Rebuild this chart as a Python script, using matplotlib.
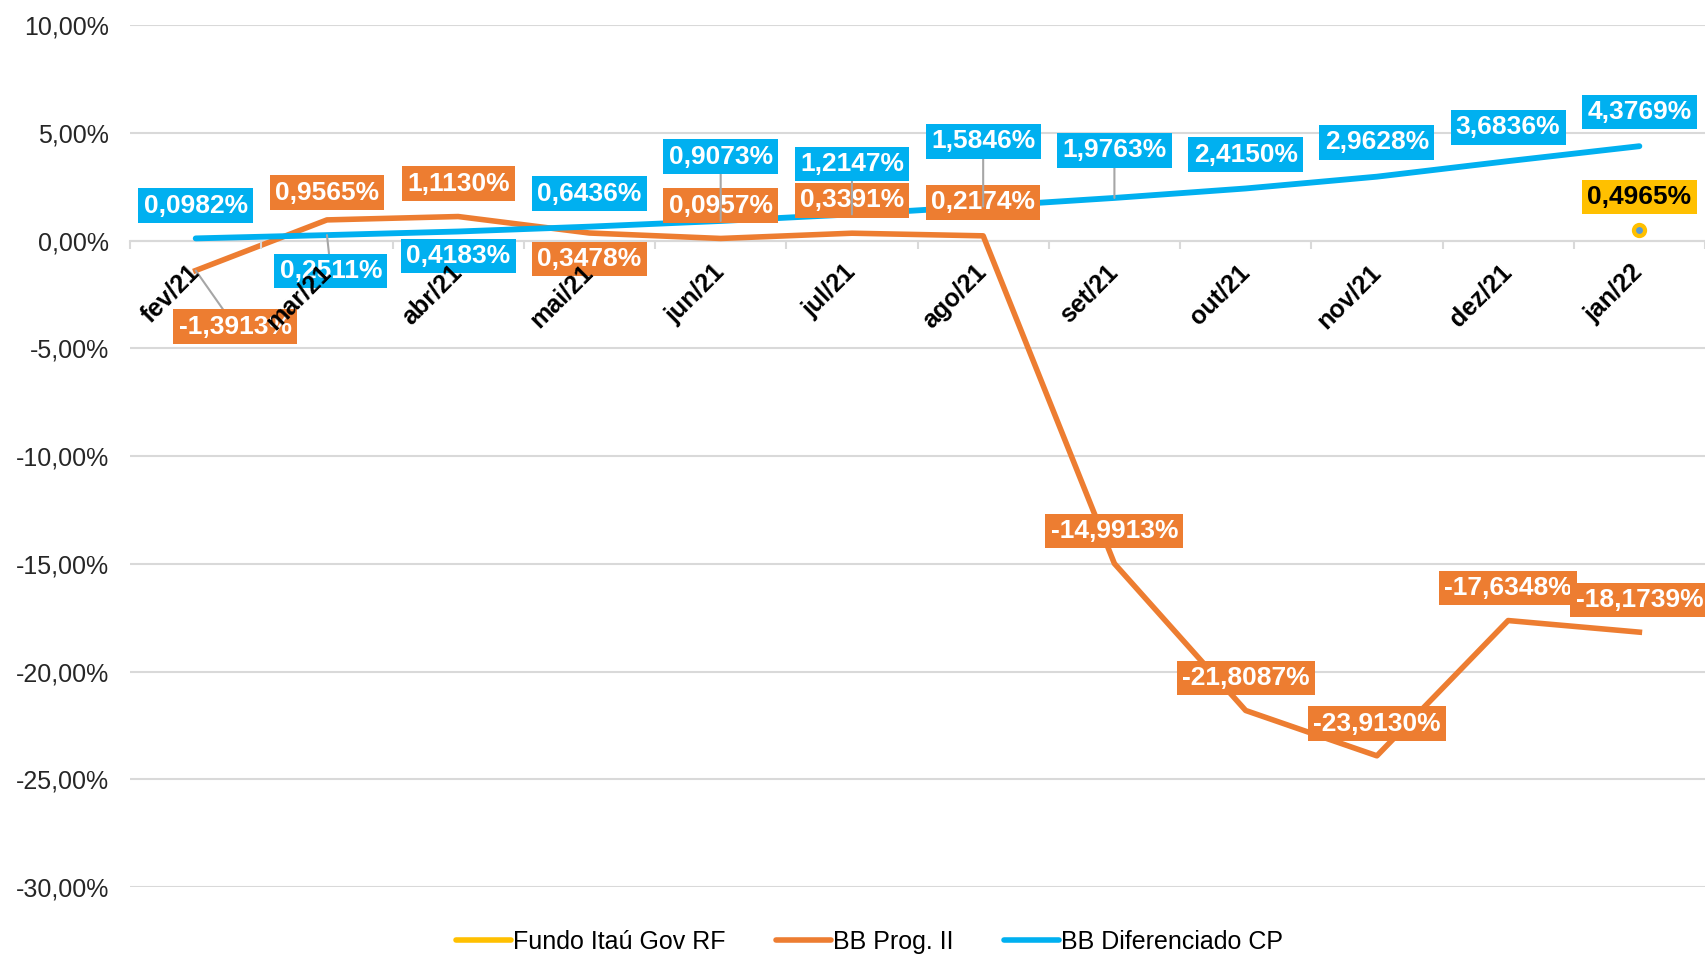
import numpy as np
import matplotlib.pyplot as plt
from matplotlib.lines import Line2D

# Data (cumulative return, %)
months = ["fev/21", "mar/21", "abr/21", "mai/21", "jun/21", "jul/21",
          "ago/21", "set/21", "out/21", "nov/21", "dez/21", "jan/22"]
itau_gov = [np.nan] * 11 + [0.4965]
bb_prog = [-1.3913, 0.9565, 1.1130, 0.3478, 0.0957, 0.3391,
           0.2174, -14.9913, -21.8087, -23.9130, -17.6348, -18.1739]
bb_dif = [0.0982, 0.2511, 0.4183, 0.6436, 0.9073, 1.2147,
          1.5846, 1.9763, 2.4150, 2.9628, 3.6836, 4.3769]

# label placement (offsets from the point, in category / % units)
prog_dx = [0.3, 0, 0, 0, 0, 0, 0, 0, 0, 0, 0, 0]
prog_dy = [-2.6, 1.26, 1.52, -1.21, 1.52, 1.53, 1.55, 1.51, 1.51, 1.49, 1.52, 1.5]
prog_leader = [True] + [False] * 11
dif_dx = [0, 0.03, 0, 0, 0, 0, 0, 0, 0, 0, 0, 0]
dif_dy = [1.52, -1.66, -1.13, 1.53, 2.98, 2.33, 3.02, 2.21, 1.57, 1.59, 1.57, 1.58]
dif_leader = [False, True, False, False, True, True, True, True, False, False, False, False]
itau_dy = 1.52

C_GOLD = "#FFC000"
C_ORANGE = "#ED7D31"
C_BLUE = "#00B0F0"
C_GRID = "#D9D9D9"

plt.rcParams["font.family"] = ["Liberation Sans", "DejaVu Sans"]


def pct(v, nd=4):
    return f"{v:.{nd}f}%".replace(".", ",")


def add_labels(ax, vals, dxs, dys, leaders, face, txtcolor="white"):
    for i, v in enumerate(vals):
        if np.isnan(v):
            continue
        arrow = None
        if leaders[i]:
            arrow = dict(arrowstyle="-", color="#A6A6A6", lw=1.5,
                         shrinkA=0, shrinkB=0)
        ax.annotate(pct(v), xy=(i, v), xytext=(i + dxs[i], v + dys[i]),
                    ha="center", va="center", fontsize=19, fontweight="bold",
                    color=txtcolor, zorder=6, annotation_clip=False,
                    bbox=dict(boxstyle="square,pad=0.2", fc=face, ec="none"),
                    arrowprops=arrow)


def main():
    fig = plt.figure(figsize=(17.05, 9.55), dpi=100)
    ax = fig.add_axes([0.0763, 0.0712, 0.9237, 0.9026])

    x = np.arange(len(months))
    ax.plot(x, itau_gov, color=C_GOLD, lw=4, marker="o", markersize=8,
            markerfacecolor="#5B9BD5", markeredgecolor=C_GOLD, mew=3, zorder=3)
    ax.plot(x, bb_prog, color=C_ORANGE, lw=4, zorder=3)
    ax.plot(x, bb_dif, color=C_BLUE, lw=4.2, zorder=4,
            solid_capstyle="round")

    add_labels(ax, bb_prog, prog_dx, prog_dy, prog_leader, C_ORANGE)
    add_labels(ax, bb_dif, dif_dx, dif_dy, dif_leader, C_BLUE)
    add_labels(ax, itau_gov, [0] * 12, [itau_dy] * 12, [False] * 12,
               C_GOLD, txtcolor="black")

    ax.set_xlim(-0.5, len(months) - 0.5)
    ax.set_ylim(-30, 10)
    yt = np.arange(-30, 11, 5)
    ax.set_yticks(yt)
    ax.set_yticklabels([pct(v, 2) for v in yt], fontsize=18, color="#262626")
    ax.tick_params(axis="y", length=0, pad=15)
    ax.yaxis.grid(True, color=C_GRID, lw=1.5)
    ax.set_axisbelow(True)
    # month labels sit on top of the data labels, as in the original
    ax.xaxis.set_zorder(7)

    for s in ["left", "right", "top"]:
        ax.spines[s].set_visible(False)
    ax.spines["bottom"].set_position(("data", 0))
    ax.spines["bottom"].set_color(C_GRID)
    ax.spines["bottom"].set_linewidth(1.5)

    ax.set_xticks(x)
    ax.set_xticklabels(months, rotation=45, ha="right", va="center",
                       rotation_mode="anchor", fontsize=18, fontweight="bold")
    ax.set_xticks(np.arange(-0.5, len(months), 1.0), minor=True)
    ax.tick_params(axis="x", which="major", length=0, pad=20)
    ax.tick_params(axis="x", which="minor", length=6, width=1.5,
                   color=C_GRID, direction="out")

    handles = [Line2D([], [], color=C_GOLD, lw=4, solid_capstyle="round"),
               Line2D([], [], color=C_ORANGE, lw=4, solid_capstyle="round"),
               Line2D([], [], color=C_BLUE, lw=4, solid_capstyle="round")]
    fig.legend(handles, ["Fundo Itaú Gov RF", "BB Prog. II", "BB Diferenciado CP"],
               loc="lower center", bbox_to_anchor=(0.51, -0.022), ncol=3,
               frameon=False, fontsize=18, handlelength=2.2,
               handletextpad=0.1, columnspacing=2.0)

    fig.savefig("out.png", dpi=100)


if __name__ == "__main__":
    main()
